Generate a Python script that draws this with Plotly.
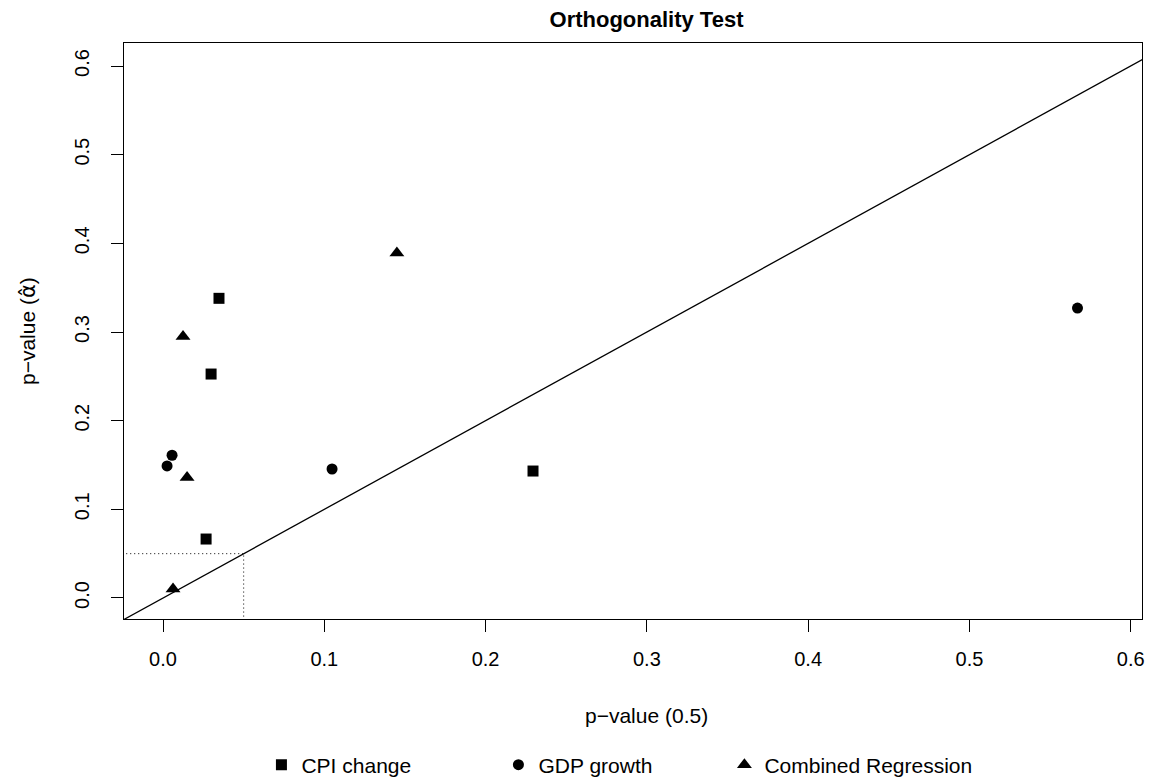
import plotly.graph_objects as go

# Data
cpi_x = [0.0347, 0.0298, 0.0267, 0.2294]
cpi_y = [0.338, 0.2526, 0.0665, 0.1432]
gdp_x = [0.0056, 0.0025, 0.1048, 0.567]
gdp_y = [0.161, 0.149, 0.1455, 0.327]
comb_x = [0.0124, 0.0149, 0.145, 0.0062]
comb_y = [0.295, 0.136, 0.389, 0.010]
ticks = [0.0, 0.1, 0.2, 0.3, 0.4, 0.5, 0.6]
cutoff = 0.05

x_range = [-0.0242, 0.607]
y_range = [-0.0237, 0.626]

FONT = "Liberation Sans, Arial, sans-serif"
TICK_SIZE = 20
LAB_SIZE = 21

fig = go.Figure()

# 45-degree reference line
fig.add_trace(go.Scatter(x=[-1, 1], y=[-1, 1], mode="lines",
                         line=dict(color="black", width=1.3),
                         showlegend=False, hoverinfo="skip"))
# dotted cutoff lines
fig.add_trace(go.Scatter(x=[-1, cutoff], y=[cutoff, cutoff], mode="lines",
                         line=dict(color="black", width=1, dash="1px,3px"),
                         showlegend=False, hoverinfo="skip"))
fig.add_trace(go.Scatter(x=[cutoff, cutoff], y=[-1, cutoff], mode="lines",
                         line=dict(color="black", width=1, dash="1px,3px"),
                         showlegend=False, hoverinfo="skip"))

fig.add_trace(go.Scatter(x=cpi_x, y=cpi_y, mode="markers", name="CPI change",
                         legend="legend",
                         marker=dict(symbol="square", size=11, color="black")))
fig.add_trace(go.Scatter(x=gdp_x, y=gdp_y, mode="markers", name="GDP growth",
                         legend="legend2",
                         marker=dict(symbol="circle", size=11, color="black")))
fig.add_trace(go.Scatter(x=comb_x, y=comb_y, mode="markers", name="Combined Regression",
                         legend="legend3",
                         marker=dict(symbol="triangle-up", size=13, color="black")))

axis_common = dict(
    showgrid=False, zeroline=False,
    showline=True, linecolor="black", linewidth=1, mirror=True,
    ticks="outside", ticklen=12, tickwidth=1, tickcolor="black",
    tickvals=ticks, ticktext=[f"{t:.1f}" for t in ticks],
    tickfont=dict(family=FONT, size=TICK_SIZE, color="black"),
)

leg_common = dict(orientation="h", xanchor="left", yanchor="middle", y=-0.2535,
                  itemwidth=30, bgcolor="rgba(0,0,0,0)",
                  font=dict(family=FONT, size=LAB_SIZE, color="black"))

title_center_px = 646.5  # screen x of the centred title / x-axis label

fig.update_layout(
    width=1159, height=775,
    paper_bgcolor="white", plot_bgcolor="white",
    margin=dict(l=116, r=25, t=35, b=164, autoexpand=False),
    font=dict(family=FONT, size=LAB_SIZE, color="black"),
    title=dict(text="<b>Orthogonality Test</b>", x=(title_center_px - 124) / 1018,
               xref="paper", xanchor="center",
               y=1 - 11 / 775, yanchor="middle",
               font=dict(family=FONT, size=22, color="black")),
    xaxis=dict(range=x_range, ticklabelstandoff=10, **axis_common),
    yaxis=dict(range=y_range, tickangle=-90, ticklabelstandoff=14, **axis_common),
    legend=dict(x=0.135, **leg_common),
    legend2=dict(x=0.3678, **leg_common),
    legend3=dict(x=0.5898, **leg_common),
    annotations=[
        dict(text="p\u2212value (0.5)", xref="paper", yref="paper",
             x=(title_center_px - 124) / 1018, y=-(715 - 619) / 576,
             xanchor="center", yanchor="middle",
             showarrow=False, font=dict(family=FONT, size=LAB_SIZE, color="black")),
        dict(text="p\u2212value (<span style='font-family:DejaVu Sans'>\u03b1\u0302</span>)",
             xref="paper", yref="paper",
             x=-(124 - 28) / 1018, y=0.5, xanchor="center", yanchor="middle",
             textangle=-90, showarrow=False,
             font=dict(family=FONT, size=LAB_SIZE, color="black")),
    ],
)

fig.write_html("out.html")
